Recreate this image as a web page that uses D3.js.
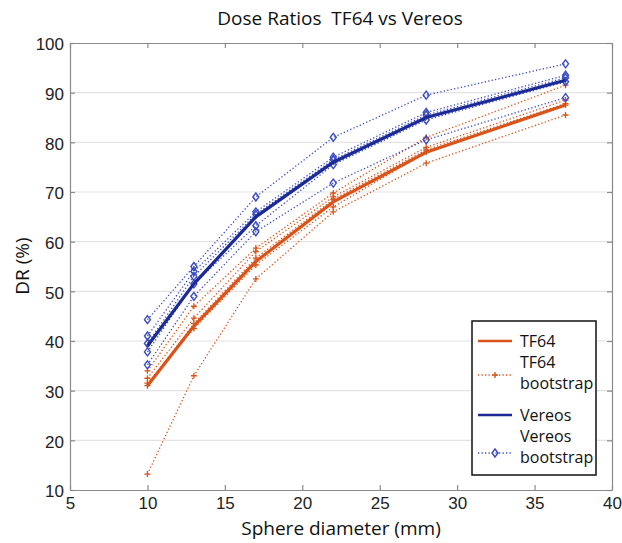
<!DOCTYPE html>
<html><head><meta charset="utf-8">
<script src="https://cdn.jsdelivr.net/npm/d3@7"></script>
<style>body{margin:0;background:#fff}svg{display:block}text{white-space:pre}</style>
</head><body><svg id="c" width="622" height="543"></svg>
<script>
const diameters = [10, 13, 17, 22, 28, 37];
const tf64Mean = [31, 43, 56, 68, 78, 87.5];
const vereosMean = [39, 51.5, 65, 76, 85, 92.5];
const tf64Boot = [
  [13.2, 33, 52.5, 66, 75.8, 85.5],
  [34, 47, 58.7, 69.8, 81, 91.5],
  [32.5, 44.6, 58, 69, 79, 88.5],
  [31, 43.5, 56.7, 68.5, 78.5, 87.8],
  [31.5, 42.5, 55.3, 67, 78, 87.5]
];
const vereosBoot = [
  [44.3, 55, 69, 81, 89.5, 95.8],
  [41, 54, 66, 77, 86, 93.5],
  [39.5, 53, 65.5, 76.5, 85.5, 93],
  [37.8, 51.5, 63.2, 75.5, 84.5, 92.2],
  [35.2, 49, 62, 71.8, 80.5, 89]
];
const xTicks = [5, 10, 15, 20, 25, 30, 35, 40];
const yTicks = [10, 20, 30, 40, 50, 60, 70, 80, 90, 100];
const legendItems = [
  {label: ["TF64"], type: "tfMean"},
  {label: ["TF64", "bootstrap"], type: "tfBoot"},
  {label: ["Vereos"], type: "veMean"},
  {label: ["Vereos", "bootstrap"], type: "veBoot"}
];

const ORANGE = "#d9541a", BLUE = "#1b2a94", BLUE_L = "#3b4cc0";
const svg = d3.select("#c");
const L = 70, R = 612, T = 43, B = 490;
const x = d3.scaleLinear().domain([5, 40]).range([L, R]);
const y = d3.scaleLinear().domain([10, 100]).range([B, T]);
const font = "'Liberation Sans', Arial, sans-serif";

// gridlines
svg.append("g").selectAll("line").data(yTicks.slice(1, -1)).join("line")
  .attr("x1", L).attr("x2", R).attr("y1", d => y(d)).attr("y2", d => y(d))
  .attr("stroke", "#e3e3e3").attr("stroke-width", 1.2);

// axes
const axCol = "#8a8a8a";
const gB = svg.append("g").attr("transform", `translate(0,${B})`)
  .call(d3.axisBottom(x).tickValues(xTicks).tickSizeInner(-5).tickSizeOuter(0).tickPadding(7));
const gT = svg.append("g").attr("transform", `translate(0,${T})`)
  .call(d3.axisTop(x).tickValues(xTicks).tickSizeInner(-5).tickSizeOuter(0).tickFormat(""));
const gL = svg.append("g").attr("transform", `translate(${L},0)`)
  .call(d3.axisLeft(y).tickValues(yTicks).tickSizeInner(-5).tickSizeOuter(0).tickPadding(6));
const gR = svg.append("g").attr("transform", `translate(${R},0)`)
  .call(d3.axisRight(y).tickValues(yTicks).tickSizeInner(-5).tickSizeOuter(0).tickFormat(""));
[gB, gT, gL, gR].forEach(g => {
  g.select(".domain").attr("stroke", axCol).attr("stroke-width", 1.2);
  g.selectAll(".tick line").attr("stroke", axCol).attr("stroke-width", 1.2);
  g.selectAll("text").attr("font-family", font).attr("font-size", 17).attr("fill", "#222");
});
gL.selectAll("text").attr("dy", "0.4em");

const line = d3.line().x((d, i) => x(diameters[i])).y(d => y(d));

// TF64 bootstrap
const tfG = svg.append("g");
tf64Boot.forEach(s => {
  tfG.append("path").attr("d", line(s)).attr("fill", "none")
    .attr("stroke", ORANGE).attr("stroke-width", 1.3).attr("stroke-dasharray", "1.3,2.2");
  tfG.selectAll(null).data(s).join("path")
    .attr("transform", (d, i) => `translate(${x(diameters[i])},${y(d)})`)
    .attr("d", "M-3,0H3M0,-3V3").attr("stroke", ORANGE).attr("stroke-width", 1.3);
});
// Vereos bootstrap
const veG = svg.append("g");
vereosBoot.forEach(s => {
  veG.append("path").attr("d", line(s)).attr("fill", "none")
    .attr("stroke", BLUE_L).attr("stroke-width", 1.3).attr("stroke-dasharray", "1.3,2.2");
  veG.selectAll(null).data(s).join("path")
    .attr("transform", (d, i) => `translate(${x(diameters[i])},${y(d)})`)
    .attr("d", "M0,-4L3,0L0,4L-3,0Z").attr("fill", "none").attr("stroke", BLUE_L).attr("stroke-width", 1.4);
});
// means
svg.append("path").attr("d", line(tf64Mean)).attr("fill", "none").attr("stroke", ORANGE).attr("stroke-width", 3.2);
svg.append("path").attr("d", line(vereosMean)).attr("fill", "none").attr("stroke", BLUE).attr("stroke-width", 3.2);

// title and labels
const lf = "'Open Sans', 'Noto Sans', sans-serif";
svg.append("text").attr("x", 340).attr("y", 25).attr("text-anchor", "middle")
  .attr("font-family", lf).attr("font-size", 19).attr("fill", "#111").text("Dose Ratios  TF64 vs Vereos");
svg.append("text").attr("x", 341).attr("y", 535).attr("text-anchor", "middle")
  .attr("font-family", lf).attr("font-size", 19).attr("fill", "#111").text("Sphere diameter (mm)");
svg.append("text").attr("transform", "translate(29,266) rotate(-90)").attr("text-anchor", "middle")
  .attr("font-family", lf).attr("font-size", 19).attr("fill", "#111").text("DR (%)");

// legend
const lg = svg.append("g");
lg.append("rect").attr("x", 472).attr("y", 321).attr("width", 124).attr("height", 154)
  .attr("fill", "#fff").attr("stroke", "#111").attr("stroke-width", 1.5);
const ly = [341, 375, 415, 453];
const lTextY = [[347], [368, 389], [421], [442, 463]];
legendItems.forEach((it, i) => {
  const cy = ly[i];
  const col = it.type.startsWith("tf") ? ORANGE : (it.type === "veMean" ? BLUE : BLUE_L);
  if (it.type.endsWith("Mean")) {
    lg.append("line").attr("x1", 478).attr("x2", 512).attr("y1", cy).attr("y2", cy)
      .attr("stroke", col).attr("stroke-width", 2.5);
  } else {
    lg.append("line").attr("x1", 478).attr("x2", 512).attr("y1", cy).attr("y2", cy)
      .attr("stroke", col).attr("stroke-width", 1.3).attr("stroke-dasharray", "1.3,2.2");
    lg.append("path").attr("transform", `translate(495,${cy})`)
      .attr("d", it.type === "tfBoot" ? "M-3,0H3M0,-3V3" : "M0,-4L3,0L0,4L-3,0Z")
      .attr("fill", "none").attr("stroke", col).attr("stroke-width", 1.4);
  }
  it.label.forEach((t, j) => {
    lg.append("text").attr("x", 520).attr("y", lTextY[i][j])
      .attr("font-family", lf).attr("font-size", 16).attr("fill", "#111").text(t);
  });
});
</script></body></html>
